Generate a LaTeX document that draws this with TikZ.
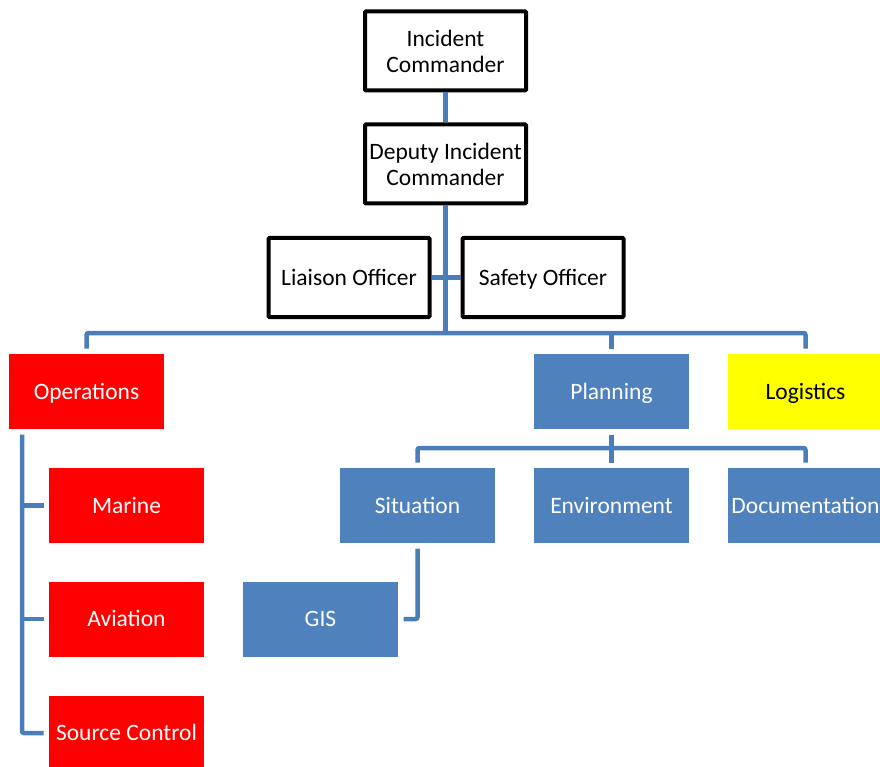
\documentclass[tikz,border=0pt]{standalone}
\usepackage{fontspec}
\setmainfont{Carlito}
\definecolor{opsred}{HTML}{FF0000}
\definecolor{planblue}{HTML}{4F81BD}
\definecolor{linkblue}{HTML}{4A7EBB}
\definecolor{logyellow}{HTML}{FFFF00}
\tikzset{
  cmdbox/.style={draw=black, fill=white, line width=4pt, rounded corners=1pt,
    minimum width=161pt, minimum height=79pt, inner sep=0pt, align=center},
  oneline/.style={text height=15pt, text depth=0pt},
  unitbox/.style={oneline, minimum width=155pt, minimum height=75pt, inner sep=0pt,
    outer sep=5.5pt, text=white},
  redbox/.style={unitbox, fill=opsred},
  bluebox/.style={unitbox, fill=planblue},
  yellowbox/.style={unitbox, fill=logyellow, text=black},
  link/.style={draw=linkblue, line width=4.5pt, rounded corners=2pt}
}

\begin{document}
\begin{tikzpicture}[x=1pt, y=-1pt, every node/.style={font=\fontsize{23.5}{26}\selectfont}]
  \useasboundingbox (0,0) rectangle (880,767);
  \node[cmdbox] (ic) at (445.5,51) {Incident\\Commander};
  \node[cmdbox] (dic) at (445.5,164) {Deputy Incident\\Commander};
  \node[cmdbox, oneline] (lo) at (349,277.5) {Liaison Officer};
  \node[cmdbox, oneline] (so) at (543,277.5) {Safety Officer};
  \coordinate (bar) at (445.5,333);
  \node[redbox] (ops) at (86.5,391.5) {Operations};
  \node[bluebox] (plan) at (611.5,391.5) {Planning};
  \node[yellowbox] (log) at (805.5,391.5) {Logistics};
  \coordinate (pbar) at (611.5,448);
  \node[bluebox] (sit) at (417.5,505.5) {Situation};
  \node[bluebox] (env) at (611.5,505.5) {Environment};
  \node[bluebox] (doc) at (805.5,505.5) {Documentation};
  \node[bluebox] (gis) at (320.5,619) {GIS};
  \coordinate (spine) at (22,434.5);
  \node[redbox] (mar) at (126.5,505.5) {Marine};
  \node[redbox] (avi) at (126.5,619) {Aviation};
  \node[redbox] (src) at (126.5,733) {Source Control};

  \draw[link] (ic) -- (dic);
  \draw[link] (dic) -- (dic |- bar);
  \draw[link] (lo) -- (so);
  \draw[link] (ops.north) -- (ops.north |- bar) -- (log.north |- bar) -- (log.north);
  \draw[link] (plan.north) -- (plan.north |- bar);
  \draw[link] (sit.north) -- (sit.north |- pbar) -- (doc.north |- pbar) -- (doc.north);
  \draw[link] (plan) -- (env);
  \draw[link] (sit.south) |- (gis.east);
  \draw[link] (spine) |- (src.west);
  \draw[link] (spine |- mar.west) -- (mar.west);
  \draw[link] (spine |- avi.west) -- (avi.west);
\end{tikzpicture}
\end{document}
